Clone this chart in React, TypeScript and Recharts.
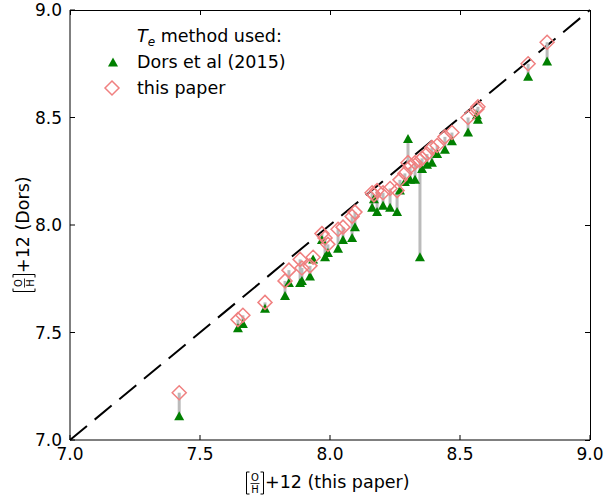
import React from 'react';
import { ScatterChart, Scatter, XAxis, YAxis, ReferenceLine } from 'recharts';

// 12 + log(O/H) from this paper (x axis)
const ohThisPaper = [
  7.42, 7.646, 7.665, 7.75, 7.827, 7.842, 7.885, 7.892, 7.923, 7.935,
  7.969, 7.981, 7.992, 8.031, 8.05, 8.085, 8.096, 8.162, 8.169, 8.181,
  8.204, 8.231, 8.258, 8.269, 8.288, 8.3, 8.308, 8.327, 8.346, 8.354,
  8.373, 8.392, 8.412, 8.442, 8.469, 8.531, 8.565, 8.569, 8.762, 8.835,
];
// Dors calibration with our Te
const ohDorsOurTe = [
  7.22, 7.56, 7.58, 7.64, 7.74, 7.79, 7.84, 7.8, 7.81, 7.85,
  7.96, 7.94, 7.91, 7.98, 7.99, 8.04, 8.06, 8.15, 8.14, 8.16,
  8.15, 8.17, 8.16, 8.21, 8.24, 8.29, 8.27, 8.29, 8.3, 8.31,
  8.33, 8.36, 8.37, 8.41, 8.43, 8.5, 8.54, 8.55, 8.75, 8.85,
];
// Dors et al (2015) Te
const ohDors2015 = [
  7.11, 7.52, 7.54, 7.61, 7.67, 7.73, 7.73, 7.74, 7.76, 7.84,
  7.93, 7.85, 7.87, 7.89, 7.93, 7.94, 7.99, 8.08, 8.12, 8.06,
  8.09, 8.08, 8.06, 8.16, 8.2, 8.4, 8.21, 8.21, 7.85, 8.26,
  8.28, 8.29, 8.33, 8.35, 8.39, 8.43, 8.51, 8.49, 8.69, 8.76,
];
const axisTicks = [7.0, 7.5, 8.0, 8.5, 9.0];

const dorsPoints = ohThisPaper.map((x, i) => ({ x, y: ohDors2015[i] }));
const ourPoints = ohThisPaper.map((x, i) => ({ x, y: ohDorsOurTe[i] }));

const FONT = 'DejaVu Sans, sans-serif';
const GREEN = '#008000';
const PINK = '#f08080';

// plot box (pixels) used for the top/right frame in the overlay
const PLOT = { left: 70, top: 10, right: 590, bottom: 440 };

const Triangle = (props: any) => {
  const { cx, cy } = props;
  return <path d={`M${cx},${cy - 5} L${cx + 5},${cy + 4} L${cx - 5},${cy + 4} Z`} fill={GREEN} />;
};

const Diamond = (props: any) => {
  const { cx, cy } = props;
  const r = 7;
  return (
    <path
      d={`M${cx},${cy - r} L${cx + r},${cy} L${cx},${cy + r} L${cx - r},${cy} Z`}
      fill="none"
      stroke={PINK}
      strokeWidth={1.5}
    />
  );
};

// [O/H]+12 ... label, drawn in local coords (baseline of the text at y=6)
function OHLabel({ text, transform }: { text: string; transform: string }) {
  return (
    <g transform={transform} fontFamily={FONT} fill="#000">
      <path d="M3.5,-10 H0.5 V12 H3.5" fill="none" stroke="#000" strokeWidth={1} />
      <text x={9} y={-1} fontSize={10} textAnchor="middle">O</text>
      <line x1={4.5} x2={13.5} y1={1.5} y2={1.5} stroke="#000" strokeWidth={0.8} />
      <text x={9} y={11} fontSize={10} textAnchor="middle">H</text>
      <path d="M14.5,-10 H17.5 V12 H14.5" fill="none" stroke="#000" strokeWidth={1} />
      <text x={19} y={6} fontSize={17.5}>{text}</text>
    </g>
  );
}

const tickStyle = { fontFamily: FONT, fontSize: 17, fill: '#000' };

export default function App() {
  const sx = (PLOT.right - PLOT.left) / 2;
  const sy = (PLOT.bottom - PLOT.top) / 2;
  return (
    <div style={{ position: 'absolute', left: 0, top: 0, width: 604, height: 500, background: '#fff' }}>
      <ScatterChart width={604} height={500} margin={{ top: 10, right: 14, bottom: 0, left: 0 }}>
        <XAxis
          type="number"
          dataKey="x"
          domain={[7, 9]}
          ticks={axisTicks}
          tickFormatter={(v: number) => v.toFixed(1)}
          height={60}
          tickSize={-5}
          tickMargin={13}
          tick={tickStyle}
          stroke="#000"
          allowDataOverflow
        />
        <YAxis
          type="number"
          dataKey="y"
          domain={[7, 9]}
          ticks={axisTicks}
          tickFormatter={(v: number) => v.toFixed(1)}
          width={70}
          tickSize={-5}
          tickMargin={13}
          tick={tickStyle}
          stroke="#000"
          allowDataOverflow
        />
        <ReferenceLine
          segment={[{ x: 7, y: 7 }, { x: 9, y: 9 }]}
          stroke="#000"
          strokeWidth={2}
          strokeDasharray="22 10"
          ifOverflow="visible"
        />
        {ohThisPaper.map((x, i) => (
          <ReferenceLine
            key={i}
            segment={[{ x, y: ohDors2015[i] }, { x, y: ohDorsOurTe[i] }]}
            stroke="#bbbbbb"
            strokeWidth={3}
          />
        ))}
        <Scatter name="Dors et al (2015)" data={dorsPoints} shape={Triangle} isAnimationActive={false} />
        <Scatter name="this paper" data={ourPoints} shape={Diamond} isAnimationActive={false} />
      </ScatterChart>

      <svg width={604} height={500} style={{ position: 'absolute', left: 0, top: 0, pointerEvents: 'none' }}>
        {/* top and right frame with inward ticks */}
        <g stroke="#000" strokeWidth={1} shapeRendering="crispEdges">
          <line x1={PLOT.left} x2={PLOT.right} y1={PLOT.top} y2={PLOT.top} />
          <line x1={PLOT.right} x2={PLOT.right} y1={PLOT.top} y2={PLOT.bottom} />
          {axisTicks.map((v) => {
            const px = PLOT.left + (v - 7) * sx;
            const py = PLOT.bottom - (v - 7) * sy;
            return (
              <g key={v}>
                <line x1={px} x2={px} y1={PLOT.top} y2={PLOT.top + 5} />
                <line x1={PLOT.right} x2={PLOT.right - 5} y1={py} y2={py} />
              </g>
            );
          })}
        </g>
        {/* legend */}
        <g fontFamily={FONT} fontSize={17.5} fill="#000">
          <text x={137} y={42}>
            <tspan fontStyle="italic">T</tspan>
            <tspan fontStyle="italic" fontSize={12} dy={4}>e</tspan>
            <tspan dy={-4}> method used:</tspan>
          </text>
          <path d="M113,57.5 L118,66.5 L108,66.5 Z" fill={GREEN} />
          <text x={137} y={68}>Dors et al (2015)</text>
          <path d="M112,81 L119,88 L112,95 L105,88 Z" fill="none" stroke={PINK} strokeWidth={1.5} />
          <text x={137} y={94}>this paper</text>
        </g>
        <OHLabel text="+12 (this paper)" transform="translate(246,482)" />
        <OHLabel text="+12 (Dors)" transform="translate(23,292) rotate(-90)" />
      </svg>
    </div>
  );
}
